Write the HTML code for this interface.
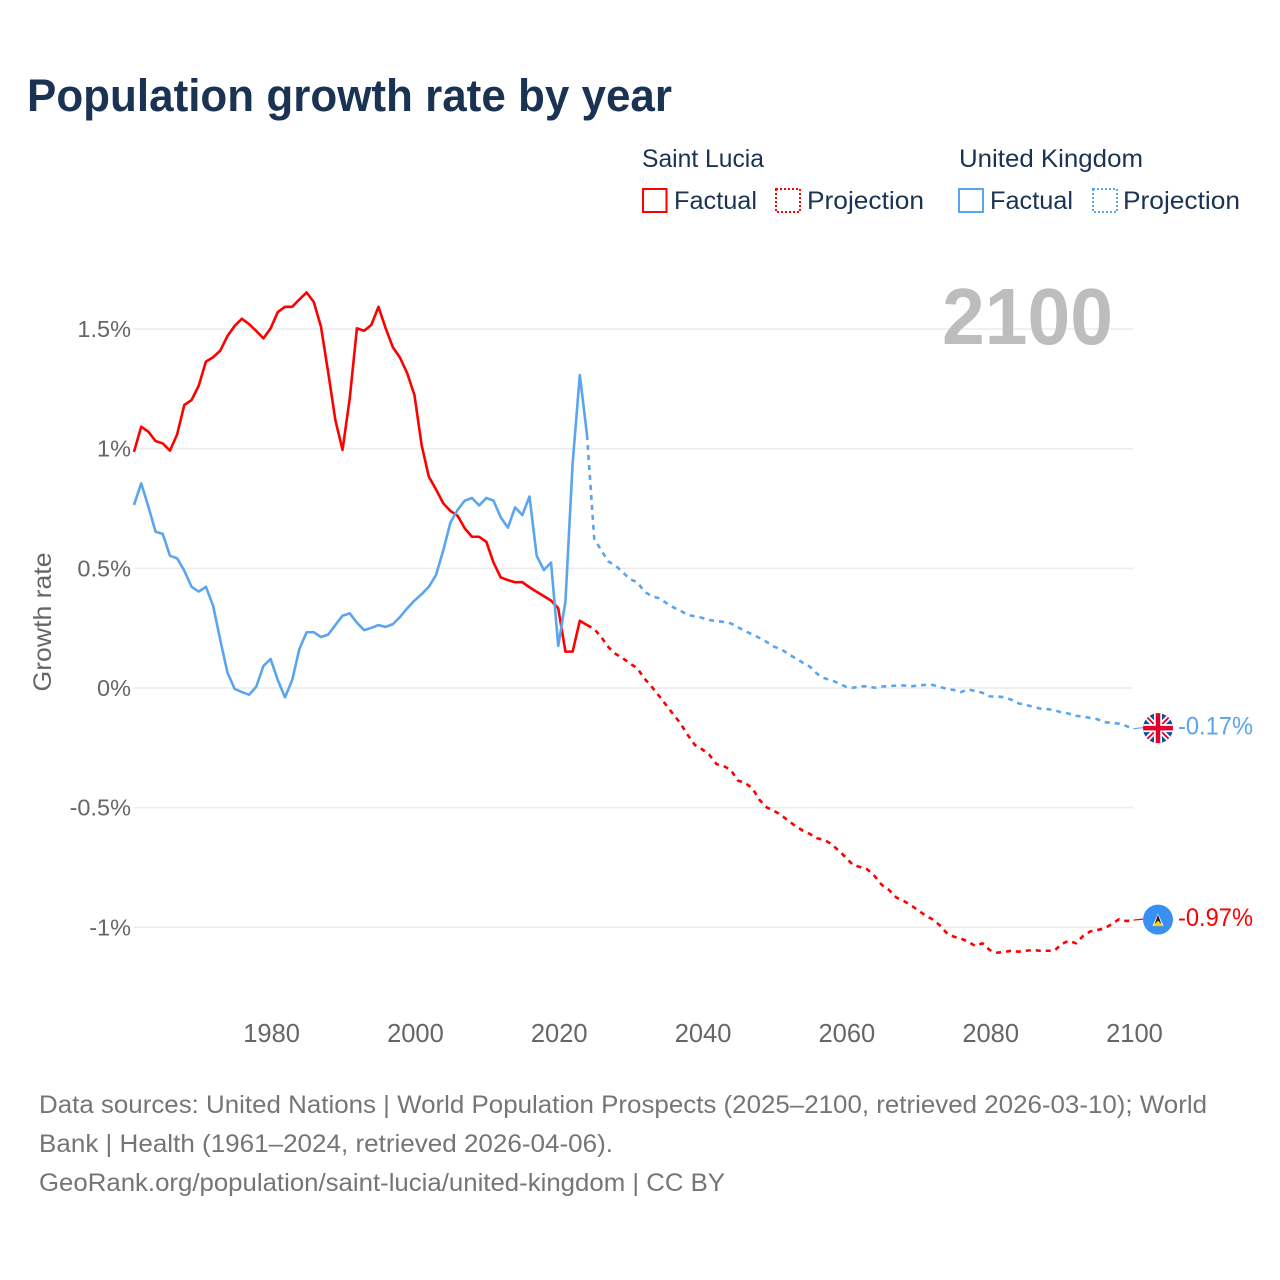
<!DOCTYPE html>
<html lang="en">
<head>
<meta charset="utf-8">
<title>Population growth rate by year</title>
<style>
html,body{margin:0;padding:0;background:#fff;width:1280px;height:1280px;overflow:hidden}
svg{display:block;font-family:"Liberation Sans",sans-serif}
</style>
</head>
<body>
<svg id="chart" width="1280" height="1280" viewBox="0 0 1280 1280" xmlns="http://www.w3.org/2000/svg">
  <defs>
    <clipPath id="uk-clip"><circle cx="0" cy="0" r="15"/></clipPath>
  </defs>
  <rect width="1280" height="1280" fill="#ffffff"/>
  <text x="27" y="111" font-size="45" font-weight="700" fill="#1a3353" textLength="645" lengthAdjust="spacingAndGlyphs">Population growth rate by year</text>

  <g fill="#1a3353" font-size="25">
    <text x="642" y="167" textLength="122" lengthAdjust="spacingAndGlyphs">Saint Lucia</text>
    <text x="959" y="167" textLength="184" lengthAdjust="spacingAndGlyphs">United Kingdom</text>
    <rect x="643" y="189" width="23.5" height="23" fill="none" stroke="#ff0000" stroke-width="2"/>
    <text x="674" y="209" textLength="83" lengthAdjust="spacingAndGlyphs">Factual</text>
    <rect x="776" y="189" width="24" height="23" fill="none" stroke="#ff0000" stroke-width="2" stroke-dasharray="2 2"/>
    <text x="807" y="209" textLength="117" lengthAdjust="spacingAndGlyphs">Projection</text>
    <rect x="959" y="189" width="24" height="23" fill="none" stroke="#5aa5ed" stroke-width="2"/>
    <text x="990" y="209" textLength="83" lengthAdjust="spacingAndGlyphs">Factual</text>
    <rect x="1093" y="189" width="24" height="23" fill="none" stroke="#5aa5ed" stroke-width="2" stroke-dasharray="2 2"/>
    <text x="1123" y="209" textLength="117" lengthAdjust="spacingAndGlyphs">Projection</text>
  </g>

  <g id="grid"></g>
  <text x="942" y="344" font-size="80" font-weight="700" fill="#bdbdbd" textLength="171" lengthAdjust="spacingAndGlyphs">2100</text>
  <g id="y-axis"></g>
  <g id="x-axis"></g>
  <text transform="translate(51,622) rotate(-90)" text-anchor="middle" font-size="25" fill="#666666" textLength="139" lengthAdjust="spacingAndGlyphs">Growth rate</text>
  <g id="series"></g>

  <g id="uk-flag">
    <g clip-path="url(#uk-clip)">
      <rect x="-16" y="-16" width="32" height="32" fill="#0b4ea2"/>
      <path d="M-16 -16L16 16M16 -16L-16 16" stroke="#ffffff" stroke-width="5.5" fill="none"/>
      <path d="M-16 -16L16 16M16 -16L-16 16" stroke="#e4002b" stroke-width="1.8" fill="none"/>
      <path d="M0 -16V16M-16 0H16" stroke="#ffffff" stroke-width="8" fill="none"/>
      <path d="M0 -16V16M-16 0H16" stroke="#e4002b" stroke-width="4.5" fill="none"/>
    </g>
  </g>
  <g id="sl-flag">
    <circle cx="0" cy="0" r="15" fill="#3a8ff2"/>
    <path d="M-5.5 6L0 -6L5.5 6Z" fill="#ffffff"/>
    <path d="M-4 6L0 -5L4 6Z" fill="#222222"/>
    <path d="M-5.5 6.5L0 1L5.5 6.5Z" fill="#fcd116"/>
  </g>
  <text id="uk-end-label" x="1178" font-size="25" fill="#5aa5ed" textLength="75" lengthAdjust="spacingAndGlyphs"></text>
  <text id="sl-end-label" x="1178" font-size="25" fill="#ff0000" textLength="75" lengthAdjust="spacingAndGlyphs"></text>

  <g font-size="25" fill="#757575">
    <text x="39" y="1113" textLength="1168" lengthAdjust="spacingAndGlyphs">Data sources: United Nations | World Population Prospects (2025–2100, retrieved 2026-03-10); World</text>
    <text x="39" y="1152" textLength="574" lengthAdjust="spacingAndGlyphs">Bank | Health (1961–2024, retrieved 2026-04-06).</text>
    <text x="39" y="1191" textLength="686" lengthAdjust="spacingAndGlyphs">GeoRank.org/population/saint-lucia/united-kingdom | CC BY</text>
  </g>
</svg>
<script>
const factualStartYear = 1961;
const projectionStartYear = 2024;
const yTickValues = [1.5, 1, 0.5, 0, -0.5, -1];
const yTickLabels = ["1.5%", "1%", "0.5%", "0%", "-0.5%", "-1%"];
const xTickYears = [1980, 2000, 2020, 2040, 2060, 2080, 2100];
const xTickLabels = ["1980", "2000", "2020", "2040", "2060", "2080", "2100"];

const saintLuciaFactual = [0.987,1.092,1.071,1.032,1.022,0.992,1.06,1.183,1.203,1.263,1.364,1.382,1.41,1.471,1.513,1.543,1.521,1.492,1.461,1.503,1.571,1.593,1.593,1.624,1.653,1.613,1.51,1.32,1.12,0.995,1.21,1.503,1.493,1.517,1.593,1.503,1.424,1.38,1.315,1.224,1.015,0.883,0.83,0.772,0.74,0.72,0.667,0.632,0.632,0.611,0.524,0.462,0.451,0.442,0.442,0.421,0.402,0.384,0.365,0.333,0.152,0.152,0.281,0.263];
const saintLuciaProjection = [0.263,0.247,0.212,0.170,0.142,0.124,0.102,0.082,0.039,0.005,-0.032,-0.071,-0.110,-0.148,-0.196,-0.238,-0.256,-0.279,-0.318,-0.326,-0.343,-0.387,-0.397,-0.419,-0.468,-0.499,-0.513,-0.531,-0.555,-0.577,-0.596,-0.610,-0.628,-0.635,-0.652,-0.680,-0.708,-0.740,-0.748,-0.758,-0.786,-0.823,-0.844,-0.875,-0.889,-0.907,-0.928,-0.949,-0.966,-0.990,-1.023,-1.039,-1.047,-1.060,-1.078,-1.067,-1.095,-1.106,-1.103,-1.098,-1.102,-1.098,-1.095,-1.098,-1.098,-1.098,-1.070,-1.056,-1.067,-1.036,-1.017,-1.011,-1.004,-0.986,-0.966,-0.974,-0.970];
const unitedKingdomFactual = [0.765,0.855,0.758,0.653,0.644,0.553,0.542,0.49,0.423,0.403,0.423,0.344,0.2,0.064,-0.004,-0.017,-0.028,0.005,0.092,0.121,0.033,-0.039,0.033,0.163,0.233,0.233,0.213,0.223,0.263,0.302,0.312,0.273,0.242,0.251,0.263,0.255,0.267,0.297,0.333,0.365,0.392,0.423,0.472,0.574,0.691,0.744,0.783,0.794,0.763,0.794,0.783,0.713,0.67,0.755,0.723,0.80,0.553,0.493,0.524,0.176,0.361,0.939,1.308,1.057];
const unitedKingdomProjection = [1.057,0.625,0.574,0.528,0.511,0.483,0.454,0.442,0.402,0.384,0.375,0.356,0.337,0.323,0.305,0.300,0.293,0.284,0.280,0.276,0.270,0.254,0.238,0.224,0.209,0.192,0.173,0.162,0.142,0.124,0.106,0.089,0.059,0.041,0.032,0.020,0.005,0.001,0.007,0.007,0.001,0.006,0.008,0.010,0.011,0.007,0.010,0.013,0.013,0.006,-0.004,-0.008,-0.017,-0.006,-0.013,-0.020,-0.035,-0.036,-0.038,-0.049,-0.064,-0.071,-0.078,-0.086,-0.088,-0.093,-0.102,-0.107,-0.116,-0.120,-0.125,-0.131,-0.143,-0.146,-0.149,-0.159,-0.17];

const SVG_NS = "http://www.w3.org/2000/svg";
const RED = "#ff0000";
const BLUE = "#5aa5ed";

function xScale(year) { return 134 + (year - 1961) * (999.5 / 139); }
function yScale(value) { return 688 - value * 239.3; }

function linePath(startYear, values) {
  return values.map(function (v, i) {
    return (i ? "L" : "M") + xScale(startYear + i).toFixed(2) + " " + yScale(v).toFixed(2);
  }).join("");
}

const gridGroup = document.getElementById("grid");
const yAxisGroup = document.getElementById("y-axis");
const xAxisGroup = document.getElementById("x-axis");
const seriesGroup = document.getElementById("series");

yTickValues.forEach(function (v, i) {
  const line = document.createElementNS(SVG_NS, "line");
  
  
  line.setAttribute("x1", xScale(1961));
  line.setAttribute("x2", xScale(2100));
  line.setAttribute("y1", yScale(v));
  line.setAttribute("y2", yScale(v));
  line.setAttribute("stroke", "#ececec");
  line.setAttribute("stroke-width", "1.5");
  gridGroup.appendChild(line);

  const label = document.createElementNS(SVG_NS, "text");
  
  
  label.setAttribute("x", 131);
  label.setAttribute("y", yScale(v) + 8);
  label.setAttribute("text-anchor", "end");
  label.setAttribute("font-size", "23.5");
  label.setAttribute("fill", "#666666");
  label.textContent = yTickLabels[i];
  yAxisGroup.appendChild(label);
});

xTickYears.forEach(function (year, i) {
  const label = document.createElementNS(SVG_NS, "text");
  
  
  label.setAttribute("x", xScale(year) + 1);
  label.setAttribute("y", 1042);
  label.setAttribute("text-anchor", "middle");
  label.setAttribute("font-size", "25.5");
  label.setAttribute("fill", "#666666");
  label.textContent = xTickLabels[i];
  xAxisGroup.appendChild(label);
});

function addLine(d, color, dashed) {
  const path = document.createElementNS(SVG_NS, "path");
  
  
  path.setAttribute("d", d);
  path.setAttribute("fill", "none");
  path.setAttribute("stroke", color);
  path.setAttribute("stroke-width", "2.6");
  path.setAttribute("stroke-linejoin", "round");
  if (dashed) path.setAttribute("stroke-dasharray", "5 5");
  seriesGroup.appendChild(path);
}

addLine(linePath(factualStartYear, saintLuciaFactual), RED, false);
addLine(linePath(projectionStartYear, saintLuciaProjection), RED, true);
addLine(linePath(factualStartYear, unitedKingdomFactual), BLUE, false);
addLine(linePath(projectionStartYear, unitedKingdomProjection), BLUE, true);

function addEnd(values, color, flagId, labelId) {
  const last = values[values.length - 1];
  const y = yScale(last);
  const connector = document.createElementNS(SVG_NS, "line");
  
  
  connector.setAttribute("x1", xScale(2100));
  connector.setAttribute("x2", 1143);
  connector.setAttribute("y1", y);
  connector.setAttribute("y2", y - 1);
  connector.setAttribute("stroke", color);
  connector.setAttribute("stroke-width", "1.2");
  seriesGroup.appendChild(connector);
  document.getElementById(flagId).setAttribute("transform", "translate(1158," + (y - 0.5) + ")");
  const label = document.getElementById(labelId);
  label.setAttribute("y", y + 6);
  label.textContent = last.toFixed(2) + "%";
}
addEnd(unitedKingdomProjection, BLUE, "uk-flag", "uk-end-label");
addEnd(saintLuciaProjection, RED, "sl-flag", "sl-end-label");
</script>
</body>
</html>
